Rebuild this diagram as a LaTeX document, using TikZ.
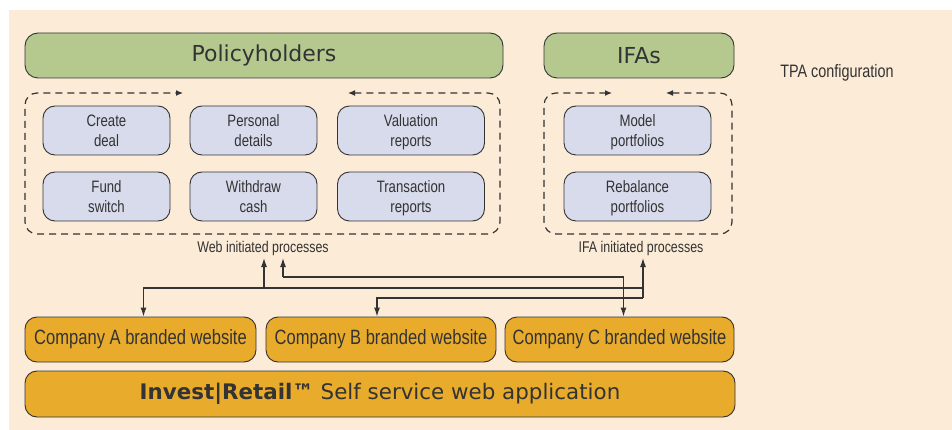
\documentclass[tikz,border=0pt]{standalone}
\usepackage{fontspec}
\setmainfont{Liberation Sans}
\newfontfamily\narrowfont[FakeStretch=0.8]{Liberation Sans}
\newfontfamily\headfont{DejaVu Sans}
\usepackage{xcolor}
\usetikzlibrary{arrows.meta}
\definecolor{paper}{HTML}{FBEBD7}
\definecolor{leaf}{HTML}{B5C98F}
\definecolor{mist}{HTML}{D8DBEB}
\definecolor{amber}{HTML}{E8AB2C}
\definecolor{ink}{HTML}{333333}
\tikzset{
	userbox/.style={draw=ink,fill=leaf,line width=0.9pt,rounded corners=13pt,minimum height=45pt,inner sep=0pt,text=ink,font=\headfont\fontsize{22}{26}\selectfont},
	taskbox/.style={draw=ink,fill=mist,line width=0.9pt,rounded corners=12pt,minimum height=49pt,inner sep=0pt,align=center,text height=32pt,text depth=0pt,text=ink,font=\narrowfont\fontsize{16.5}{20}\selectfont},
	sitebox/.style={draw=ink,fill=amber,line width=0.9pt,rounded corners=12pt,minimum height=45pt,inner sep=0pt,text=ink,font=\narrowfont\fontsize{20.7}{24}\selectfont},
	caption/.style={inner sep=0pt,text=ink,font=\narrowfont\fontsize{15.5}{18}\selectfont},
	zone/.style={draw=ink,line width=1.2pt,dash pattern=on 7pt off 5pt,rounded corners=12pt,{Latex[length=7pt,width=6pt]}-{Latex[length=7pt,width=6pt]}},
	wire/.style={draw=ink,line width=1.2pt,-{Latex[length=9pt,width=6pt]}}
}
\begin{document}
\begin{tikzpicture}[x=1pt,y=-1pt]
	\useasboundingbox (0,0) rectangle (952,430);
	\fill[paper] (9,10) rectangle (952,430);

	\node[userbox,minimum width=478pt] (holders) at (264,55.5) {Policyholders};
	\node[userbox,minimum width=190pt] (ifas) at (639,55.5) {IFAs};
	\node[caption,font=\narrowfont\fontsize{18}{20}\selectfont] (tpa) at (837,73) {TPA configuration};

	\draw[zone] (348,93) -- (500,93) -- (500,234) -- (25,234) -- (25,93) -- (183,93);
	\draw[zone] (666,93) -- (732,93) -- (732,234) -- (544,234) -- (544,93) -- (612,93);

	\node[taskbox,minimum width=127pt] (create) at (106.5,130.5) {Create\\deal};
	\node[taskbox,minimum width=127pt] (personal) at (253.5,130.5) {Personal\\details};
	\node[taskbox,minimum width=147pt] (valuation) at (411,130.5) {Valuation\\reports};
	\node[taskbox,minimum width=127pt] (fund) at (106.5,196.5) {Fund\\switch};
	\node[taskbox,minimum width=127pt] (withdraw) at (253.5,196.5) {Withdraw\\cash};
	\node[taskbox,minimum width=147pt] (transaction) at (411,196.5) {Transaction\\reports};
	\node[taskbox,minimum width=147pt] (model) at (637.5,130.5) {Model\\portfolios};
	\node[taskbox,minimum width=147pt] (rebalance) at (637.5,196.5) {Rebalance\\portfolios};

	\node[caption] (weblbl) at (263,248) {Web initiated processes};
	\node[caption] (ifalbl) at (641,248) {IFA initiated processes};

	\node[sitebox,minimum width=231pt] (siteA) at (140.5,339.5) {Company A branded website};
	\node[sitebox,minimum width=230pt] (siteB) at (381,339.5) {Company B branded website};
	\node[sitebox,minimum width=229pt] (siteC) at (619.5,339.5) {Company C branded website};
	\node[sitebox,minimum width=710pt,minimum height=46pt,font=\headfont\fontsize{21.4}{25}\selectfont] (invest) at (380,394) {\textbf{Invest|Retail™} Self service web application};

	\coordinate (webup) at (264,258);
	\coordinate (webdn) at (283,258);
	\coordinate (ifaup) at (643,258);
	\draw[wire] (ifaup |- 0,288) -| ([xshift=3pt]siteA.north);
	\draw[wire] (webup |- 0,288) -- (webup);
	\draw[wire] (ifaup |- 0,298) -- (ifaup);
	\draw[wire] (ifaup |- 0,298) -| ([xshift=-4pt]siteB.north);
	\draw[wire] (webdn |- 0,277) -- (webdn);
	\draw[wire] (webdn |- 0,277) -| ([xshift=4pt]siteC.north);
\end{tikzpicture}
\end{document}
